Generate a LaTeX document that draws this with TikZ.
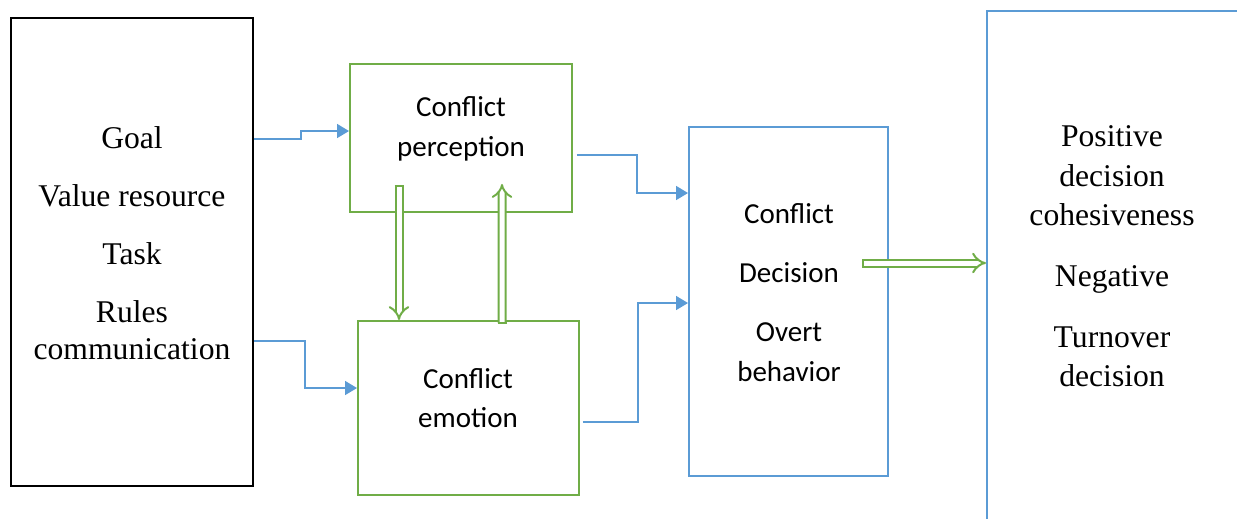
\documentclass[tikz,border=0pt]{standalone}
\usepackage{fontspec}
\setmainfont{Liberation Serif}
\newfontfamily\calibri{Carlito}
\usepackage{tikz}
\usetikzlibrary{calc,arrows.meta,positioning}
\definecolor{BoxGreen}{HTML}{70AD47}
\definecolor{BoxBlue}{HTML}{5B9BD5}

\begin{document}
\begin{tikzpicture}[
  x=0.02cm, y=-0.02cm,
  box/.style={draw, line width=0.04cm, inner sep=0pt},
  serif/.style={align=center, font=\fontsize{18}{21}\selectfont},
  sans/.style={align=center, font=\calibri\fontsize{16.5}{22.5}\selectfont},
  conn/.style={draw=BoxBlue, line width=0.03cm,
               -{Triangle[length=0.24cm,width=0.28cm]}},
  dbl/.style={draw=BoxGreen, line width=0.04cm, double=white,
              double distance=0.1cm, {Bar[width=0.18cm,line width=0.04cm]}-{Implies}},
  >=Stealth]
  \useasboundingbox (0,0) rectangle (1237,518);
  \clip (0,0) rectangle (1237,518);
  % boxes
  \node[box, draw=black, minimum width=4.84cm, minimum height=9.36cm] (factors) at (132,252) {};
  \node[box, draw=BoxGreen, minimum width=4.44cm, minimum height=2.96cm] (perc) at (461,138) {};
  \node[box, draw=BoxGreen, minimum width=4.42cm, minimum height=3.48cm] (emot) at (468.5,408) {};
  \node[box, draw=BoxBlue, minimum width=3.98cm, minimum height=6.98cm] (dec) at (788.5,301.5) {};
  \node[box, draw=BoxBlue, minimum width=6cm, minimum height=10.8cm] (outcome) at (1137,281) {};
  % texts
  \node[serif] (factorsTxt) at (132,243) {Goal\\[12pt]Value resource\\[12pt]Task\\[12pt]Rules\\communication};
  \node[sans] (percTxt) at (461,129) {Conflict\\perception};
  \node[sans] (emotTxt) at (468,398) {Conflict\\emotion};
  \node[sans] (decTxt) at (789,292.5) {Conflict\\[11pt]Decision\\[11pt]Overt\\behavior};
  \node[serif, font=\fontsize{18}{22.5}\selectfont] (outTxt) at (1112,256.5)
    {Positive\\decision\\cohesiveness\\[12pt]Negative\\[12pt]Turnover\\decision};
  % connectors
  \draw[conn] ($(factors.east)+(0,-113)$) -- ++(47,0) |- ($(perc.west)+(0,-7)$);
  \draw[conn] ($(factors.east)+(0,89)$) -- ++(51,0) |- ($(emot.west)+(0,-20)$);
  \draw[conn] ($(perc.east)+(4,17)$) -- ++(60,0) |- ($(dec.west)+(0,-108.5)$);
  \draw[conn] ($(emot.east)+(3,14)$) -- ++(55,0) |- ($(dec.west)+(0,1.5)$);
  \draw[dbl] ($(perc.south)+(-62,-28)$) -- ($(emot.north)+(-69.5,0)$);
  \draw[dbl] ($(emot.north)+(33.5,4)$) -- ($(perc.south)+(41,-29)$);
  \draw[dbl] ($(dec.east)+(-27,-38.5)$) -- ($(outcome.west)+(0,-18)$);
\end{tikzpicture}
\end{document}
